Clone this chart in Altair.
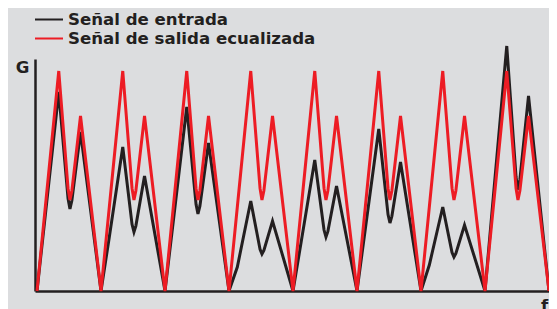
import altair as alt
import pandas as pd

# ---- data ----
series_names = ["Señal de entrada", "Señal de salida ecualizada"]
series_colors = ["#231f20", "#ed1c24"]

n_periods = 8
# position of features inside each period (fraction of one period)
rise_pos, peak_pos, dip_pos, sec_pos = 0.13, 0.34, 0.515, 0.68

entrada_rise = [76, 54, 70, 24, 50, 62, 26, 94]
entrada_peak = [199, 144, 184, 90, 131, 162, 84, 245]
entrada_dip = [82, 59, 77, 37, 54, 68, 34, 101]
entrada_sec = [159, 115, 148, 70, 105, 129, 66, 195]

salida_rise = [84, 84, 84, 84, 84, 84, 84, 84]
salida_peak = [220, 220, 220, 220, 220, 220, 220, 220]
salida_dip = [91, 91, 91, 91, 91, 91, 91, 91]
salida_sec = [175, 175, 175, 175, 175, 175, 175, 175]


def build(name, rise, peak, dip, sec):
    rows = []
    for k in range(n_periods):
        p, d, s, r = peak[k], dip[k], sec[k], rise[k]
        pts = [
            (k, 0),
            (k + rise_pos, r),
            (k + peak_pos, p),
            (k + dip_pos - 0.03, d + 0.09 * (p - d)),
            (k + dip_pos, d),
            (k + dip_pos + 0.03, d + 0.11 * (s - d)),
            (k + sec_pos, s),
        ]
        rows += [{"f": x, "G": g, "serie": name} for x, g in pts]
    rows.append({"f": n_periods, "G": 0, "serie": name})
    return rows


df_in = pd.DataFrame(build(series_names[0], entrada_rise, entrada_peak, entrada_dip, entrada_sec))
df_out = pd.DataFrame(build(series_names[1], salida_rise, salida_peak, salida_dip, salida_sec))

FONT = "DejaVu Sans"
FSIZE = 16.6
DARK = "#231f20"

x_enc = alt.X(
    "f:Q",
    scale=alt.Scale(domain=[-0.03125, 8.0], nice=False, zero=False),
    axis=alt.Axis(title="f", titleX=509, titleY=19, titleAlign="center",
                  titleBaseline="alphabetic"),
)
y_enc = alt.Y(
    "G:Q",
    scale=alt.Scale(domain=[0, 232], nice=False),
    axis=alt.Axis(title="G", titleAngle=0, titleX=-13, titleY=13,
                  titleAlign="center", titleBaseline="alphabetic"),
)

line_in = alt.Chart(df_in).mark_line(color=series_colors[0], strokeWidth=3).encode(x=x_enc, y=y_enc)
line_out = alt.Chart(df_out).mark_line(color=series_colors[1], strokeWidth=3).encode(x=x_enc, y=y_enc)

legend_layers = []
for i, name in enumerate(series_names):
    ldf = pd.DataFrame({"label": [name]})
    legend_layers.append(
        alt.Chart(ldf).mark_rule(strokeWidth=2).encode(
            x=alt.value(0), x2=alt.value(28), y=alt.value(-39.5 + 19 * i),
            color=alt.value(series_colors[i]),
        )
    )
    legend_layers.append(
        alt.Chart(ldf).mark_text(
            align="left", baseline="alphabetic", font=FONT, fontSize=FSIZE,
            fontWeight="bold", color=DARK,
        ).encode(x=alt.value(33), y=alt.value(-34 + 19.3 * i), text="label:N")
    )

chart = (
    alt.layer(line_in, line_out, *legend_layers)
    .properties(
        width=514,
        height=232,
        background="#dcdddf",
        padding={"left": 27, "top": 51, "right": 0, "bottom": 18},
        autosize=alt.AutoSizeParams(type="none"),
    )
    .configure_view(stroke=None)
    .configure_axis(
        domainColor=DARK, domainWidth=2.5, ticks=False, labels=False, grid=False,
        titleFont=FONT, titleFontSize=FSIZE, titleFontWeight="bold", titleColor=DARK,
    )
)

chart.save("out.html", embed_options={"renderer": "svg", "actions": False})
